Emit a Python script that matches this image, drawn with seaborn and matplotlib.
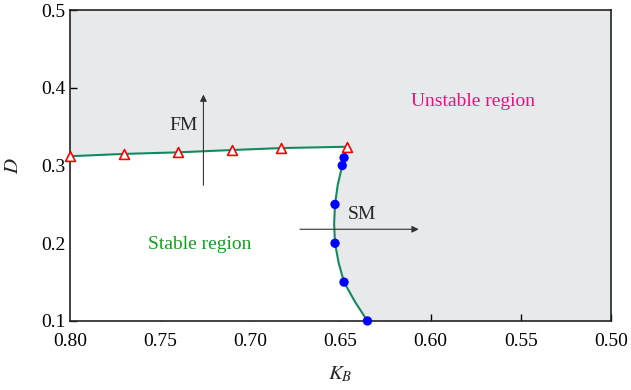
import numpy as np
import pandas as pd
import matplotlib
matplotlib.use('Agg')
import matplotlib.pyplot as plt
import seaborn as sns

# FM boundary (triangles) and SM boundary (dots)
fm_k = [0.800, 0.770, 0.740, 0.710, 0.683, 0.6464]
fm_d = [0.312, 0.315, 0.317, 0.320, 0.3225, 0.3242]

sm_k = [0.648, 0.649, 0.653, 0.653, 0.648, 0.635]
sm_d = [0.310, 0.300, 0.250, 0.200, 0.150, 0.100]

# green curve along the SM boundary (read points)
curve_k = [0.6464, 0.648, 0.649, 0.6515, 0.653, 0.6535, 0.653, 0.651, 0.648, 0.642, 0.635]
curve_d = [0.3242, 0.310, 0.300, 0.275, 0.250, 0.225, 0.200, 0.175, 0.150, 0.125, 0.100]

sns.set_style('ticks')
plt.rcParams['font.family'] = ['Liberation Serif', 'DejaVu Serif']
plt.rcParams['mathtext.fontset'] = 'stix'

fig = plt.figure(figsize=(6.31, 3.90), dpi=100)
ax = fig.add_axes([0.111, 0.177, 0.857, 0.797])

gray = '#e8e9eb'
green = '#14895e'
ax.set_facecolor(gray)

# stable region in white
bk = fm_k + curve_k[1:] + [0.80]
bd = fm_d + curve_d[1:] + [0.100]
ax.fill(bk, bd, color='white', zorder=1)

df_fm = pd.DataFrame({'k': fm_k, 'd': fm_d})
df_sm = pd.DataFrame({'k': sm_k, 'd': sm_d})
df_c = pd.DataFrame({'k': curve_k, 'd': curve_d})

sns.lineplot(data=df_fm, x='k', y='d', color=green, lw=1.5, ax=ax, zorder=3,
             sort=False, estimator=None)
sns.lineplot(data=df_c, x='k', y='d', color=green, lw=1.5, ax=ax, zorder=3,
             sort=False, estimator=None)
sns.scatterplot(data=df_sm, x='k', y='d', color='#0000ff', s=45, edgecolor='none',
                ax=ax, zorder=4, clip_on=False)
sns.scatterplot(data=df_fm, x='k', y='d', marker='^', s=50, facecolor='white',
                edgecolor='#ff0000', linewidth=1.2, ax=ax, zorder=5, clip_on=False)

# arrows
ax.annotate('', xy=(0.726, 0.395), xytext=(0.726, 0.271),
            arrowprops=dict(arrowstyle='-|>', color='#333333', lw=0.8,
                            mutation_scale=10), zorder=6)
ax.annotate('', xy=(0.605, 0.218), xytext=(0.674, 0.218),
            arrowprops=dict(arrowstyle='-|>', color='#333333', lw=0.8,
                            mutation_scale=10), zorder=6)
ax.text(0.737, 0.351, 'FM', fontsize=14, ha='center', va='center', zorder=6)
ax.text(0.638, 0.237, 'SM', fontsize=14, ha='center', va='center', zorder=6)
ax.text(0.5765, 0.383, 'Unstable region', fontsize=14, color='#ec0f84',
        ha='center', va='center', zorder=6)
ax.text(0.728, 0.198, 'Stable region', fontsize=14, color='#13a022',
        ha='center', va='center', zorder=6)

ax.set_xlim(0.80, 0.50)
ax.set_ylim(0.1, 0.5)
ax.set_xticks([0.80, 0.75, 0.70, 0.65, 0.60, 0.55, 0.50])
ax.set_xticklabels(['0.80', '0.75', '0.70', '0.65', '0.60', '0.55', '0.50'])
ax.set_yticks([0.1, 0.2, 0.3, 0.4, 0.5])
ax.set_yticklabels(['0.1', '0.2', '0.3', '0.4', '0.5'])
ax.tick_params(direction='in', length=5, width=1, labelsize=14, colors='black')
ax.tick_params(axis='x', pad=9)
ax.tick_params(axis='y', pad=3)
ax.set_xlabel('$K_B$', fontsize=15, labelpad=10)
ax.set_ylabel('$D$', fontsize=15, labelpad=13)
for s in ax.spines.values():
    s.set_linewidth(1.2)
    s.set_color('#222222')

fig.savefig('out.png', dpi=100)
